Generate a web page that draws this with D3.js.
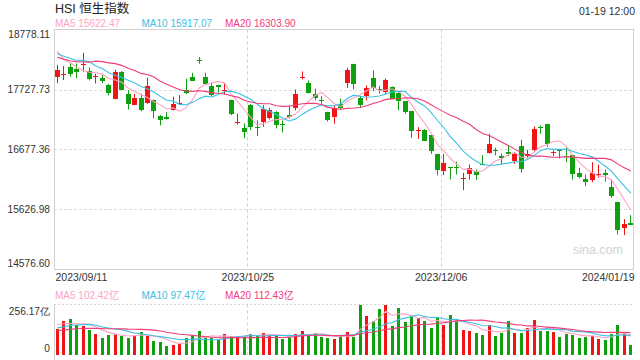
<!DOCTYPE html>
<html><head><meta charset="utf-8">
<script src="https://cdn.jsdelivr.net/npm/d3@7"></script>
<style>
html,body{margin:0;padding:0;background:#fff;}
svg{display:block;font-family:"Liberation Sans",Arial,"Noto Sans CJK SC",sans-serif;}
</style></head><body>
<svg id="c" width="640" height="360"></svg>
<script>
// ---- data ----
const open=[17939,17991,18125,18090,18160,18049,17944,17933,17798,17571,
18038,17647,17466,17583,17483,17542,17268,17250,17378,17478,
17717,17950,18248,17944,17793,17798,17711,17536,17139,17046,
17460,17075,17163,17221,17338,17128,17285,17408,17927,17845,
17653,17548,17338,17256,17472,17834,18178,17583,17612,17933,
17728,17670,17769,17670,17524,17349,17011,17022,16923,16602,
16311,16369,16375,16165,16241,16299,16416,16608,16667,16556,
16637,16462,16742,16567,16667,17063,17128,16614,16672,16567,
16573,16258,16153,16153,16235,16258,16025,15762,15295,15394];
const close=[18067,18003,18009,18044,18172,17915,17968,17886,17658,18038,
17728,17466,17583,17378,17787,17343,17203,17221,17478,17489,
17658,17886,18236,17816,17641,17769,17723,17291,17157,16970,
17075,17058,17390,17367,17116,17104,17244,17653,17939,17670,
17583,17530,17203,17408,17408,18061,17834,17466,17758,17758,
17717,17886,17565,17524,17338,16999,17022,16836,16637,16328,
16445,16351,16351,16176,16346,16223,16404,16766,16655,16521,
16602,16591,16346,16602,17028,17052,16777,16626,16649,16556,
16241,16182,16106,16270,16246,16229,15873,15278,15365,15365];
const high=[18160,18137,18195,18184,18370,18114,18003,17985,17828,18073,
18049,17717,17653,17653,17933,17553,17279,17332,17600,17629,
17915,18020,18294,18020,17845,17810,17834,17548,17308,17133,
17472,17186,17454,17408,17349,17186,17454,17729,18044,17886,
17740,17612,17338,17437,17565,18108,18178,17612,17798,18061,
17787,17921,17781,17682,17524,17349,17069,17034,16923,16602,
16602,16369,16462,16270,16416,16328,16579,16952,16707,16608,
16742,16614,16847,16672,17081,17098,17128,16661,16684,16719,
16573,16357,16241,16456,16416,16328,16153,15762,15459,15529];
const low=[17839,17892,17950,17927,18038,17886,17834,17839,17623,17565,
17717,17378,17454,17349,17478,17221,17098,17203,17361,17454,
17647,17874,18178,17804,17612,17670,17641,17279,17116,16871,
17017,16912,17075,17203,17046,16976,17221,17361,17904,17658,
17536,17478,17168,17128,17378,17758,17728,17419,17536,17699,
17658,17653,17565,17361,17303,16882,16865,16824,16602,16223,
16229,16153,16241,15966,16153,16141,16404,16608,16573,16416,
16562,16427,16270,16521,16649,16952,16725,16562,16521,16456,
16153,16171,16036,16106,16182,16112,15832,15190,15179,15354];
// turnover, 亿
const volume=[134.0,170.0,180.3,154.6,149.4,125.4,108.2,87.6,103.0,104.8,
97.9,87.6,97.9,118.5,97.9,72.1,63.5,46.4,49.8,56.7,
87.6,101.4,123.6,87.6,87.6,77.3,108.2,97.9,94.5,94.5,
108.2,97.9,113.3,103.0,97.9,82.4,92.7,108.2,123.6,97.9,
113.3,92.7,87.6,82.4,94.5,118.5,92.7,256.17,195.8,173.5,
231.8,252.5,149.4,237.0,164.9,195.8,185.5,170.0,139.1,190.6,
154.6,200.9,175.2,128.8,123.6,113.3,103.0,154.6,97.9,113.3,
173.5,113.3,113.3,139.1,175.2,123.6,123.6,118.5,92.7,108.2,
103.0,87.6,92.7,96.2,82.4,77.3,108.2,154.6,118.5,51.5];
// sessions before the window (only used for the moving averages at the left edge)
const priorClose=[18700,18600,18330,18320,17950,17620,18050,18100,18290,18330,
18480,18380,18380,18200,18180,18700,18300,18430,18473];
const priorVolume=[105,115,98,120,110,102,125,108,112,105,118,112,125,130,116,150,175,160,154];

const yTicks=[14576.60,15626.98,16677.36,17727.73,18778.11];
const volTicks=[0,256.17];
const xLabels=["2023/09/11","2023/10/25","2023/12/06","2024/01/19"];
const maPeriods=[5,10,20];
const maLabels=["15622.47","15917.07","16303.90"];
const volMaLabels=["102.42亿","97.47亿","112.43亿"];
const title="HSI 恒生指数";
const stamp="01-19 12:00";

// ---- styles ----
const UP="#f01414", DOWN="#0ea00e";
const MACOL=["#ffa3c2","#3cc0e4","#f03c78"];
const L=54,R=634,T=29.5,B=269.5,VT=304.5,VB=355;

const svg=d3.select("#c");
const n=close.length;
const x=d3.scaleBand().domain(d3.range(n)).range([L,R]);
const cx=i=>x(i)+x.bandwidth()/2;
const y=d3.scaleLinear().domain([yTicks[0],yTicks[yTicks.length-1]]).range([B,T]);
const vy=d3.scaleLinear().domain([0,volTicks[1]]).range([VB,VT]);
const xl=d3.scaleLinear().domain([0,xLabels.length-1]).range([L,R]);

function ma(prior,series,k){
  const all=prior.concat(series), off=prior.length;
  return series.map((_,i)=>d3.mean(all.slice(off+i-k+1,off+i+1)));
}

// header
svg.append("text").attr("x",55).attr("y",12.5).attr("font-size",12.5).attr("fill","#222").text(title);
svg.append("text").attr("x",635).attr("y",14.5).attr("font-size",10.5).attr("fill","#333").attr("text-anchor","end").text(stamp);

// legends
const legX=[55,141.5,225];
maPeriods.forEach((p,k)=>{
  svg.append("text").attr("x",legX[k]).attr("y",27.3).attr("font-size",10).attr("fill",MACOL[k]).text("MA"+p+" "+maLabels[k]);
  svg.append("text").attr("x",legX[k]).attr("y",298.5).attr("font-size",10).attr("fill",MACOL[k]).text("MA"+p+" "+volMaLabels[k]);
});

// main grid
const g=svg.append("g");
g.selectAll("line.h").data(yTicks.slice(1,-1)).enter().append("line")
  .attr("x1",L).attr("x2",R).attr("y1",d=>Math.round(y(d))+0.5).attr("y2",d=>Math.round(y(d))+0.5)
  .attr("stroke","#dcdcdc").attr("stroke-dasharray","3,2");
g.selectAll("line.v").data([1,2]).enter().append("line")
  .attr("x1",d=>Math.round(xl(d))+0.5).attr("x2",d=>Math.round(xl(d))+0.5).attr("y1",T).attr("y2",B)
  .attr("stroke","#cfcfcf").attr("stroke-dasharray","3,3");
g.append("rect").attr("x",L+0.5).attr("y",T).attr("width",R-L-1).attr("height",B-T)
  .attr("fill","none").attr("stroke","#d0d0d0");

// watermark
svg.append("text").attr("x",623).attr("y",254).attr("font-size",12.5).attr("fill","#d2d2d2").attr("text-anchor","end").text("sina.com");

// y axis
const ya=svg.append("g").attr("transform",`translate(${L},0)`)
  .call(d3.axisLeft(y).tickValues(yTicks).tickSize(0).tickPadding(4).tickFormat(d=>d.toFixed(2)));
ya.select(".domain").remove();
ya.selectAll("text").attr("font-size",10.2).attr("fill","#333").attr("font-family",null)
  .attr("transform",(d,i)=>i===0?"translate(0,-6)":(i===yTicks.length-1?"translate(0,4.3)":null));

// x axis
const xa=svg.append("g").attr("transform",`translate(0,${B})`)
  .call(d3.axisBottom(xl).tickValues(d3.range(xLabels.length)).tickSize(0).tickPadding(4.5).tickFormat(i=>xLabels[i]));
xa.select(".domain").remove();
xa.selectAll("text").attr("font-size",10.5).attr("fill","#333").attr("font-family",null)
  .attr("text-anchor",(d,i)=>i===0?"start":(i===xLabels.length-1?"end":"middle"))
  .attr("dx",(d,i)=>i===0?1:0);

// candles
const cg=svg.append("g");
d3.range(n).forEach(i=>{
  const col=close[i]>=open[i]?UP:DOWN;
  const bx=Math.round(cx(i)-2.5);
  cg.append("line").attr("x1",bx+2.5).attr("x2",bx+2.5).attr("y1",y(high[i])).attr("y2",y(low[i])).attr("stroke",col);
  const t=y(Math.max(open[i],close[i])), b=y(Math.min(open[i],close[i]));
  cg.append("rect").attr("x",bx).attr("width",5).attr("y",Math.round(t)).attr("height",Math.max(1,Math.round(b-t)))
    .attr("fill",col).attr("shape-rendering","crispEdges");
});

// MA lines
const line=d3.line().x((d,i)=>cx(i)).y(d=>y(d));
maPeriods.forEach((p,k)=>{
  svg.append("path").datum(ma(priorClose,close,p)).attr("d",line).attr("fill","none").attr("stroke",MACOL[k]).attr("stroke-width",1.1);
});

// volume panel
const vg=svg.append("g");
vg.append("line").attr("x1",L).attr("x2",R).attr("y1",VT).attr("y2",VT).attr("stroke","#d6d6d6").attr("stroke-dasharray","2,2");
vg.append("line").attr("x1",L+0.5).attr("x2",L+0.5).attr("y1",VT).attr("y2",360).attr("stroke","#d0d0d0");
vg.selectAll("line.vv").data([1,2]).enter().append("line")
  .attr("x1",d=>Math.round(xl(d))+0.5).attr("x2",d=>Math.round(xl(d))+0.5).attr("y1",VT).attr("y2",VB)
  .attr("stroke","#cfcfcf").attr("stroke-dasharray","3,3");
d3.range(n).forEach(i=>{
  const col=close[i]>=open[i]?UP:DOWN;
  vg.append("rect").attr("x",Math.round(cx(i)-1.5)).attr("width",3).attr("y",vy(volume[i])).attr("height",VB-vy(volume[i]))
    .attr("fill",col).attr("shape-rendering","crispEdges");
});
const vline=d3.line().x((d,i)=>cx(i)).y(d=>vy(d));
maPeriods.forEach((p,k)=>{
  vg.append("path").datum(ma(priorVolume,volume,p)).attr("d",vline).attr("fill","none").attr("stroke",MACOL[k]).attr("stroke-width",1.1);
});
const va=svg.append("g").attr("transform",`translate(${L},0)`)
  .call(d3.axisLeft(vy).tickValues(volTicks).tickSize(0).tickPadding(4).tickFormat(d=>d?d.toFixed(2)+"亿":"0"));
va.select(".domain").remove();
va.selectAll("text").attr("font-size",10.2).attr("fill","#333").attr("font-family",null)
  .attr("transform",(d,i)=>i===0?"translate(0,-7)":"translate(0,6.5)");
</script>
</body></html>
